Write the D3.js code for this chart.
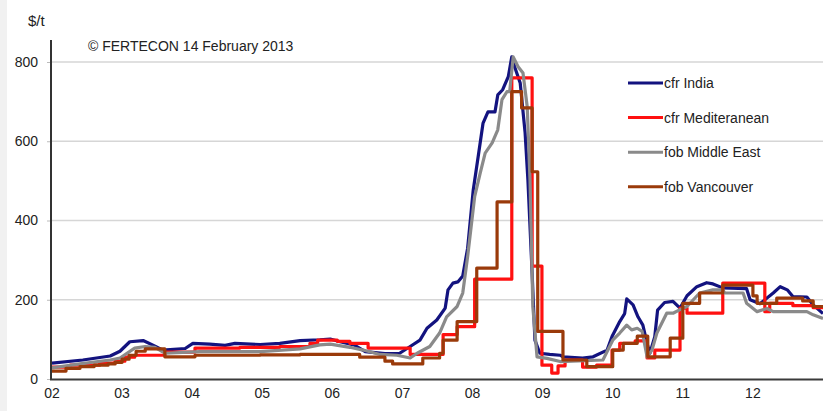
<!DOCTYPE html>
<html>
<head>
<meta charset="utf-8">
<script src="https://cdn.jsdelivr.net/npm/d3@7"></script>
<style>
  body { margin: 0; background: #fff; }
  text { font-family: "Liberation Sans", Arial, sans-serif; fill: #222; }
</style>
</head>
<body>
<div id="chart"></div>
<script>
// [decimal year, $/t]
var cfrIndia = [[2002.00,40],[2002.44,48],[2002.83,58],[2002.97,70],[2003.11,94],[2003.30,97],[2003.47,83],[2003.58,73],[2003.90,77],[2004.01,90],[2004.25,88],[2004.47,85],[2004.61,90],[2004.97,87],[2005.25,90],[2005.54,97],[2005.82,99],[2005.97,101],[2006.11,94],[2006.32,85],[2006.47,69],[2006.75,64],[2006.96,65],[2007.11,82],[2007.25,98],[2007.35,128],[2007.49,149],[2007.61,179],[2007.65,225],[2007.72,242],[2007.79,245],[2007.86,260],[2007.93,330],[2008.01,477],[2008.08,561],[2008.15,646],[2008.22,674],[2008.32,674],[2008.36,717],[2008.43,730],[2008.51,763],[2008.56,813],[2008.60,788],[2008.68,747],[2008.75,621],[2008.79,502],[2008.85,267],[2008.89,98],[2008.96,65],[2009.10,62],[2009.25,60],[2009.29,56],[2009.57,53],[2009.72,56],[2009.92,73],[2009.99,107],[2010.10,145],[2010.17,165],[2010.20,202],[2010.29,187],[2010.36,157],[2010.43,136],[2010.49,90],[2010.53,65],[2010.60,107],[2010.64,174],[2010.74,193],[2010.86,196],[2010.96,179],[2011.06,210],[2011.20,233],[2011.34,243],[2011.43,240],[2011.57,230],[2011.91,228],[2011.96,200],[2012.10,190],[2012.29,217],[2012.39,233],[2012.49,225],[2012.57,208],[2012.77,207],[2012.86,187],[2013.00,165]];

var cfrMed = [[2002.00,30],[2002.26,35],[2002.68,40],[2002.90,45],[2003.04,55],[2003.18,60],[2003.61,68],[2004.04,78],[2004.68,80],[2005.25,82],[2005.68,90],[2005.79,98],[2006.07,95],[2006.25,90],[2006.51,78],[2007.11,62],[2007.58,112],[2007.78,132],[2008.03,252],[2008.56,760],[2008.85,285],[2008.99,35],[2009.13,15],[2009.22,33],[2009.32,48],[2009.57,30],[2009.77,35],[2009.99,73],[2010.10,90],[2010.32,96],[2010.49,53],[2010.60,73],[2010.96,179],[2011.06,166],[2011.57,242],[2012.17,170],[2012.24,191],[2012.57,185],[2012.86,180],[2013.00,180]];

var fobMiddleEast = [[2002.00,28],[2002.40,38],[2002.83,48],[2002.97,53],[2003.18,78],[2003.33,82],[2003.47,80],[2003.61,65],[2004.11,69],[2004.97,69],[2005.54,76],[2005.82,86],[2005.97,88],[2006.25,80],[2006.44,73],[2006.68,62],[2006.92,60],[2007.11,53],[2007.21,65],[2007.39,82],[2007.53,116],[2007.63,157],[2007.78,183],[2007.86,217],[2007.93,309],[2008.03,460],[2008.11,520],[2008.18,570],[2008.28,596],[2008.36,629],[2008.42,705],[2008.49,725],[2008.53,725],[2008.58,813],[2008.65,788],[2008.72,772],[2008.78,687],[2008.82,502],[2008.86,182],[2008.92,56],[2009.06,52],[2009.25,44],[2009.86,48],[2010.00,98],[2010.10,116],[2010.20,136],[2010.27,124],[2010.35,128],[2010.42,120],[2010.49,56],[2010.56,73],[2010.63,116],[2010.77,166],[2010.86,166],[2010.96,175],[2011.06,183],[2011.24,217],[2011.43,225],[2011.57,225],[2011.60,217],[2011.86,217],[2011.91,191],[2012.06,170],[2012.20,178],[2012.29,170],[2012.77,170],[2012.86,162],[2013.00,153]];

var fobVancouver = [[2002.00,20],[2002.20,27],[2002.40,31],[2002.60,35],[2002.80,38],[2002.90,42],[2003.00,50],[2003.10,60],[2003.20,70],[2003.33,76],[2003.61,56],[2004.04,60],[2004.97,61],[2005.54,62],[2006.39,55],[2006.75,45],[2006.86,38],[2007.29,53],[2007.53,65],[2007.58,98],[2007.78,145],[2008.06,280],[2008.35,447],[2008.56,725],[2008.70,684],[2008.85,523],[2008.93,120],[2009.29,48],[2009.63,31],[2010.00,73],[2010.15,90],[2010.35,108],[2010.50,56],[2010.82,103],[2011.00,191],[2011.24,217],[2011.57,237],[2012.00,210],[2012.06,191],[2012.34,204],[2012.71,197],[2012.86,183],[2013.00,183]];

var seriesNames = ["cfr India", "cfr Mediteranean", "fob Middle East", "fob Vancouver"];
var yTicks = [0, 200, 400, 600, 800];
var xTicks = [2002, 2003, 2004, 2005, 2006, 2007, 2008, 2009, 2010, 2011, 2012];

var W = 823, H = 411;

var svg = d3.select("#chart").append("svg")
    .attr("width", W)
    .attr("height", H);

// light strip on the left edge
svg.append("rect").attr("x", 0).attr("y", 0).attr("width", 7).attr("height", H).attr("fill", "#f1f1f1");

var xScale = d3.scaleLinear().domain([2002, 2013]).range([52, 823]);
var yScale = d3.scaleLinear().domain([0, 800]).range([379, 62]);

var series = [
  {name: seriesNames[0], data: cfrIndia, color: "#13137f", curve: d3.curveLinear},
  {name: seriesNames[1], data: cfrMed, color: "#ff1010", curve: d3.curveStepAfter},
  {name: seriesNames[2], data: fobMiddleEast, color: "#8a8a8a", curve: d3.curveLinear},
  {name: seriesNames[3], data: fobVancouver, color: "#9a3a0a", curve: d3.curveStepAfter}
];

// grid
svg.append("g").selectAll("line")
  .data(yTicks.filter(function(d) { return d > 0; }))
  .enter().append("line")
    .attr("x1", 52).attr("x2", W)
    .attr("y1", function(d) { return yScale(d); })
    .attr("y2", function(d) { return yScale(d); })
    .attr("stroke", "#d6d6d6")
    .attr("stroke-width", 1.5);

// y axis
var yAxis = svg.append("g")
  .attr("transform", "translate(51,0)")
  .call(d3.axisLeft(yScale).tickValues(yTicks).tickSize(4).tickPadding(9));
yAxis.select(".domain").remove();
yAxis.selectAll("line").attr("stroke", "#bbb");
yAxis.selectAll("text").style("font-size", "14px").attr("fill", "#222")
  .style("font-family", "'Liberation Sans', Arial, sans-serif");

svg.append("line")
  .attr("x1", 51).attr("x2", 51).attr("y1", 40).attr("y2", 380)
  .attr("stroke", "#333").attr("stroke-width", 2);

// lines
svg.append("clipPath").attr("id", "plot")
  .append("rect").attr("x", 52).attr("y", 30).attr("width", W - 52).attr("height", 350);

var plot = svg.append("g").attr("clip-path", "url(#plot)");
series.forEach(function(s) {
  var line = d3.line()
    .x(function(d) { return xScale(d[0]); })
    .y(function(d) { return yScale(d[1]); })
    .curve(s.curve);
  plot.append("path")
    .datum(s.data)
    .attr("d", line)
    .attr("fill", "none")
    .attr("stroke", s.color)
    .attr("stroke-width", 3.2)
    .attr("stroke-linejoin", "round");
});

// x axis
svg.append("line")
  .attr("x1", 50).attr("x2", W).attr("y1", 379.5).attr("y2", 379.5)
  .attr("stroke", "#3a3a3a").attr("stroke-width", 2);

svg.append("g").selectAll("text")
  .data(xTicks)
  .enter().append("text")
    .attr("x", function(d) { return xScale(d); })
    .attr("y", 398)
    .attr("text-anchor", "middle")
    .style("font-size", "14px")
    .text(function(d) { return d3.format("02")(d % 100); });

// titles
svg.append("text").attr("x", 28).attr("y", 26).style("font-size", "15px").text("$/t");
svg.append("text").attr("x", 88).attr("y", 51).style("font-size", "14px").text("\u00a9 FERTECON 14 February 2013");

// legend
var legend = svg.append("g").selectAll("g")
  .data(series)
  .enter().append("g")
    .attr("transform", function(d, i) { return "translate(628," + (83 + i * 34.6) + ")"; });
legend.append("line")
  .attr("x1", 0).attr("x2", 35).attr("y1", 0).attr("y2", 0)
  .attr("stroke", function(d) { return d.color; })
  .attr("stroke-width", 3);
legend.append("text")
  .attr("x", 36).attr("y", 5)
  .style("font-size", "14px")
  .text(function(d) { return d.name; });
</script>
</body>
</html>
